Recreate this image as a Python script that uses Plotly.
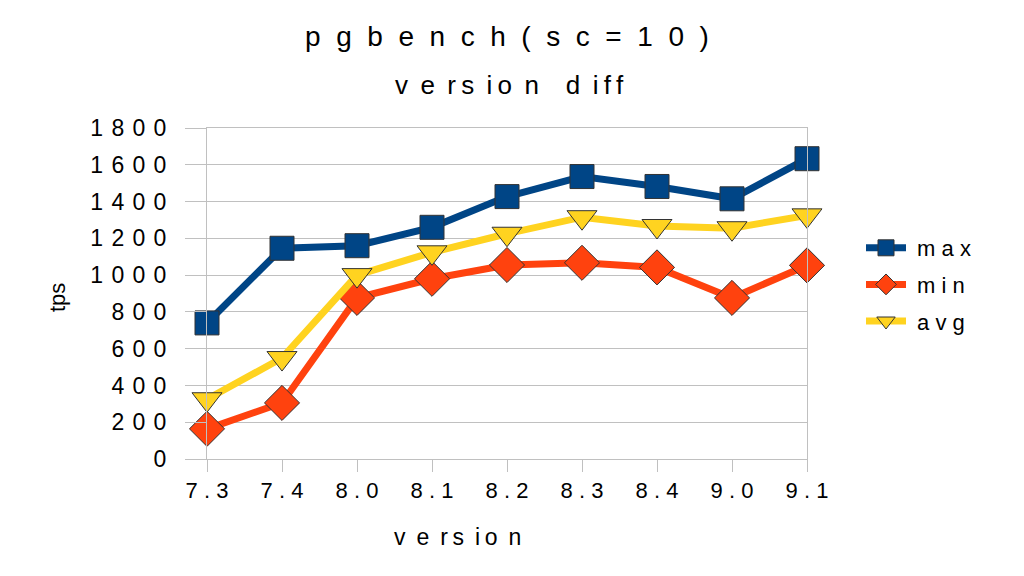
import plotly.graph_objects as go

# pgbench (scale factor 10) throughput per PostgreSQL version
versions = ["7.3", "7.4", "8.0", "8.1", "8.2", "8.3", "8.4", "9.0", "9.1"]
tps_max = [740, 1146, 1160, 1260, 1427, 1536, 1482, 1415, 1633]
tps_min = [164, 305, 876, 980, 1055, 1067, 1042, 876, 1053]
tps_avg = [325, 549, 1000, 1124, 1225, 1315, 1267, 1255, 1325]
y_ticks = [0, 200, 400, 600, 800, 1000, 1200, 1400, 1600, 1800]

BLUE = "#004586"
RED = "#ff420e"
YELLOW = "#ffd320"
GRID = "#c0c0c0"
EDGE = "#333333"
FONT = "Liberation Sans, Arial, sans-serif"

NB, TH = "\u00a0", "\u2009"
OFF = 8  # the page body has an 8px margin
W, H = 1024 - OFF, 576 - OFF
# plot box in page pixels
L, R, T, B = 207, 807, 128, 459


def spaced(s, gap=NB):
    """Wide letter spacing like the original office chart."""
    return gap.join(s)


def px_x(x):
    return (x - L) / (R - L)


def px_y(y):
    return (B - y) / (B - T)


fig = go.Figure()
series = [
    ("max", tps_max, BLUE, "square", 24),
    ("min", tps_min, RED, "diamond", 27),
    ("avg", tps_avg, YELLOW, "triangle-down", 26),
]
for name, vals, col, sym, size in series:
    fig.add_trace(go.Scatter(
        x=versions, y=vals, name=NB + spaced(name), legendgroup=name,
        mode="lines+markers", cliponaxis=False,
        line=dict(color=col, width=7),
        marker=dict(symbol=sym, size=size, color=col,
                    line=dict(color=EDGE, width=1))))

fig.update_xaxes(
    type="category", range=[0, len(versions) - 1],
    tickvals=versions, ticktext=[spaced(v) for v in versions],
    ticks="outside", ticklen=12, tickcolor=GRID, tickwidth=1,
    showline=True, linecolor=GRID, linewidth=1, mirror=True,
    showgrid=False, zeroline=False, ticklabelstandoff=0,
    tickfont=dict(size=22, color="black", family=FONT))
fig.update_yaxes(
    range=[0, 1800], tickvals=y_ticks,
    ticktext=[spaced(str(v), NB + "\u200a") for v in y_ticks],
    ticks="outside", ticklen=21, tickcolor=GRID, tickwidth=1,
    showline=True, linecolor=GRID, linewidth=1, mirror=True,
    showgrid=True, gridcolor=GRID, gridwidth=1, zeroline=False,
    ticklabelstandoff=14,
    tickfont=dict(size=23, color="black", family=FONT))


def label(text, x, y, size, angle=0):
    fig.add_annotation(text=text, x=px_x(x), y=px_y(y), xref="paper", yref="paper",
                       xanchor="center", yanchor="middle", showarrow=False,
                       textangle=angle, font=dict(size=size, color="black", family=FONT))


wide = NB + TH
label(spaced("pgbench(sc=10)", NB + NB), 507, 37, 28)
label("v" + wide + "e" + wide + "r" + TH + "s" + wide + "i" + TH + "o" + wide + "n"
      + NB * 3 + TH + "d" + wide + "i" + TH + "f" + TH + "f", 509, 85, 26)
label("v" + wide + "e" + wide + "r" + TH + "s" + wide + "i" + TH + "o" + wide + "n",
      457, 537, 23)
label("tps", 57, 298, 22, -90)

fig.update_layout(
    width=W, height=H,
    paper_bgcolor="white", plot_bgcolor="white",
    margin=dict(l=L - OFF, r=W - (R - OFF), t=T - OFF, b=H - (B - OFF), pad=0),
    font=dict(family=FONT, color="black"),
    legend=dict(x=px_x(861), y=px_y(227), xanchor="left", yanchor="top",
                font=dict(size=22, color="black", family=FONT),
                itemwidth=40, tracegroupgap=5, traceorder="grouped",
                bgcolor="rgba(0,0,0,0)"))

fig.write_html("out.html")
